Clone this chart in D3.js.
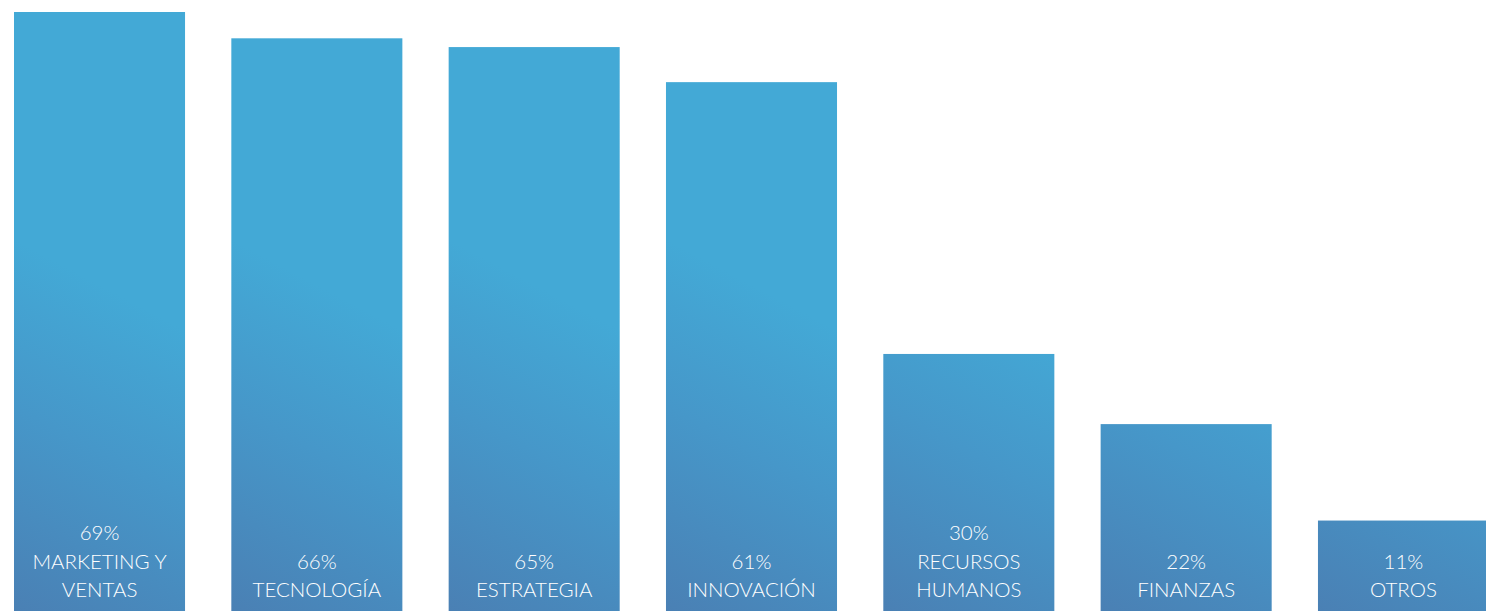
<!DOCTYPE html>
<html>
<head>
<meta charset="utf-8">
<script src="https://cdn.jsdelivr.net/npm/d3@7"></script>
<style>
  html, body { margin: 0; padding: 0; background: #fff; }
  svg { display: block; }
</style>
</head>
<body>
<svg id="chart" width="1486" height="611"></svg>
<script>
// Areas of interest and share of respondents (%)
const categories = ["MARKETING Y\nVENTAS", "TECNOLOGÍA", "ESTRATEGIA", "INNOVACIÓN", "RECURSOS\nHUMANOS", "FINANZAS", "OTROS"];
const values = [69, 66, 65, 61, 30, 22, 11];

const width = 1486, height = 611;
const svg = d3.select("#chart");

const x = d3.scaleBand()
  .domain(categories)
  .range([14, 1489])
  .paddingInner(0.213)
  .paddingOuter(0);

// baseline sits just below the visible area
const y = d3.scaleLinear()
  .domain([0, 69])
  .range([617, 12]);

const defs = svg.append("defs");

// each bar gets its own diagonal gradient: darker at bottom-left, lighter toward top-right
categories.forEach((c, i) => {
  const x0 = x(c);
  const g = defs.append("linearGradient")
    .attr("id", "grad" + i)
    .attr("gradientUnits", "userSpaceOnUse")
    .attr("x1", x0).attr("y1", height)
    .attr("x2", x0 + x.bandwidth() * 0.9).attr("y2", height - 290);
  g.append("stop").attr("offset", "0%").attr("stop-color", "#4a80b4");
  g.append("stop").attr("offset", "55%").attr("stop-color", "#4697c9");
  g.append("stop").attr("offset", "100%").attr("stop-color", "#43a9d6");
});

svg.append("g")
  .selectAll("rect")
  .data(categories)
  .join("rect")
  .attr("x", d => x(d))
  .attr("y", (d, i) => y(values[i]))
  .attr("width", x.bandwidth())
  .attr("height", (d, i) => y(0) - y(values[i]))
  .attr("fill", (d, i) => `url(#grad${i})`);

// value and category labels stacked from the bottom of each bar
const lineH = 28.5;
const lastBaseline = 597;
const labels = svg.append("g")
  .attr("font-family", "Lato, 'Open Sans', sans-serif")
  .attr("font-weight", 300)
  .attr("font-size", 20.5)
  .attr("fill", "#ffffff")
  .attr("text-anchor", "middle");

categories.forEach((c, i) => {
  const lines = [values[i] + "%"].concat(c.split("\n"));
  const cx = x(c) + x.bandwidth() / 2;
  const n = lines.length;
  lines.forEach((t, k) => {
    labels.append("text")
      .attr("x", cx)
      .attr("y", lastBaseline - (n - 1 - k) * lineH)
      .text(t);
  });
});
</script>
</body>
</html>
